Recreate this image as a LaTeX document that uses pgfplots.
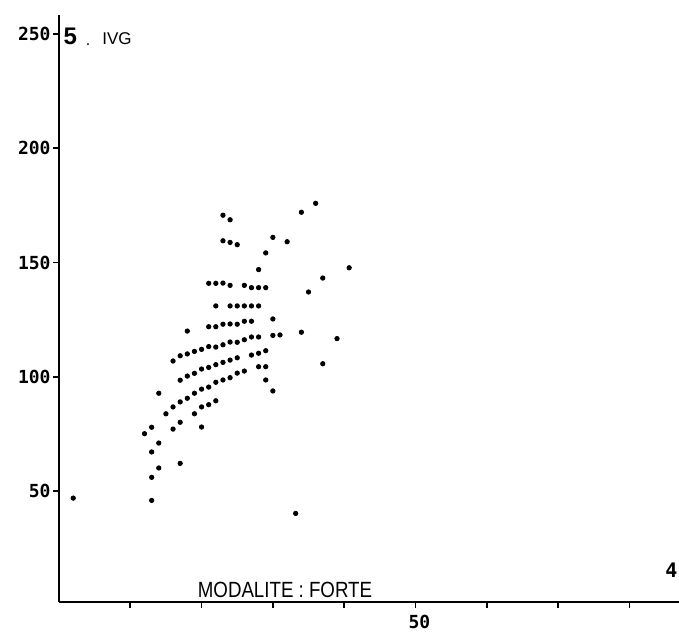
\documentclass[border=0pt]{standalone}
\usepackage{fontspec}
\usepackage{pgfplots}
\pgfplotsset{compat=1.18}
\newfontfamily\monof{DejaVu Sans Mono}
\newfontfamily\handf{Liberation Sans}

\begin{document}
\begin{tikzpicture}
\begin{axis}[
  scale only axis,
  width=310pt, height=293.5pt,
  xmin=0, xmax=86.96,
  ymin=1.42, ymax=258.3,
  axis lines*=left,
  axis line style={line width=1.2pt},
  xtick={10,20,...,80},
  xticklabels={,,,,50,,,},
  ytick={50,100,150,200,250},
  tick align=outside,
  major tick length=3pt,
  tick style={black, line width=0.8pt},
  ticklabel style={font=\monof\bfseries\fontsize{9}{10}\selectfont},
  yticklabel style={inner sep=1pt},
  xticklabel style={xshift=2pt},
  /pgf/number format/assume math mode=true,
  clip=false,
]
\addplot[only marks, mark=*, mark size=1.1pt, black] coordinates {
  (36,175.9)(34,172.0)(23,170.7)(24,168.7)(23,159.5)(24,158.8)(25,157.8)
  (30,161.0)(32,159.1)(29,154.2)(28,146.9)(40.7,147.7)(37,143.2)(35,137.1)
  (21,140.9)(22,140.9)(23,141.0)(24,140.0)(26,140.0)(27,139.0)(28,139.0)(29,139.0)
  (22,131.0)(24,131.0)(25,131.0)(26,131.0)(27,131.0)(28,131.0)
  (30,125.3)
  (21,121.9)(22,121.9)(23,123.0)(24,123.1)(25,123.0)(26,124.3)(27,124.3)
  (18,120.0)(30,118.1)(31,118.3)(34,119.5)(39,116.7)
  (16,106.9)(17,109.2)(18,110.0)(19,111.1)(20,112.0)(21,113.2)(22,113.0)
  (23,114.0)(24,115.2)(25,115.1)(26,116.2)(27,117.4)(28,117.4)
  (37,105.7)
  (17,98.5)(18,100.3)(19,101.5)(20,103.4)(21,104.1)(22,105.3)(23,106.3)
  (24,107.3)(25,108.3)(27,109.5)(28,110.3)(29,111.4)
  (28,104.4)(29,104.4)(29,98.6)(30,93.8)
  (15,83.8)(16,86.8)(17,89.0)(18,90.6)(19,92.8)(20,94.6)(21,95.5)(22,97.6)
  (23,98.6)(24,99.6)(25,101.6)(26,102.5)
  (14,92.8)
  (19,83.8)(20,86.8)(21,87.8)(22,89.5)
  (13,77.9)(12,75.1)(16,77.1)(17,80.1)(20,78.0)
  (14,71.0)(13,67.1)(17,62.1)(14,60.1)(13,56.0)(13,45.9)
  (2,46.9)(33.2,40.2)
};
% labels drawn on the plot
\node[font=\handf\bfseries\fontsize{12}{13}\selectfont] at (axis cs:1.6,248.8) {5};
\node[font=\handf\fontsize{8}{9}\selectfont] at (axis cs:4.07,245.5) {.};
\node[font=\handf\fontsize{8.5}{10}\selectfont] at (axis cs:8.13,248.0) {IVG};
\node[font=\handf\fontsize{11}{12}\selectfont, anchor=base, inner sep=0pt, xscale=0.85] at (axis cs:31.7,3.2) {MODALITE : FORTE};
\node[font=\monof\bfseries\fontsize{10}{12}\selectfont] at (axis cs:85.9,15.4) {4};
\coordinate (bl) at (axis cs:-8.27,-14.77);
\coordinate (tr) at (axis cs:86.96,264.88);
\end{axis}
\pgfresetboundingbox
\path (bl) rectangle (tr);
\end{tikzpicture}
\end{document}
